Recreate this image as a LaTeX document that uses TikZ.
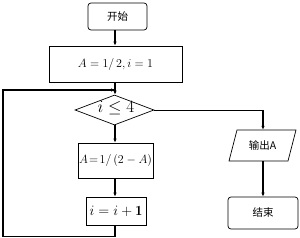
\documentclass[tikz,border=0pt]{standalone}
\usepackage{fontspec}
\newfontfamily\cjk{Noto Sans CJK SC}
\usetikzlibrary{shapes.geometric,arrows.meta}
\begin{document}
\begin{tikzpicture}[x=1pt,y=-1pt,
  box/.style={draw,line width=0.7pt,inner sep=0pt},
  rbox/.style={box,rounded corners=3pt},
  cjkt/.style={font=\cjk\fontsize{10.5}{12}\selectfont},
  arr/.style={line width=1.2pt,-{Latex[length=4pt,width=3.5pt]}},
  ln/.style={line width=1.2pt}]
\useasboundingbox (0,0) rectangle (300,238);
\node[rbox,cjkt,minimum width=59pt,minimum height=27pt] (start) at (117.5,16.5) {开始};
\node[box,minimum width=133pt,minimum height=36pt,font=\fontsize{13}{15}\selectfont] (init) at (115.5,64) {$A=1/\,2, i=1$};
\node[box,diamond,aspect=2.6,minimum width=79pt,minimum height=30pt] (cond) at (114.5,110) {};
\node[font=\fontsize{16}{18}\selectfont] (ct) at (116,108.5) {$i\le4$};
\node[box,minimum width=75pt,minimum height=35pt,font=\fontsize{12.5}{15}\selectfont] (upd) at (115.5,160.5) {$A\!=\!1/\,(2-A)$};
\node[box,minimum width=60pt,minimum height=28pt,font=\fontsize{14}{16}\selectfont] (inc) at (116,211) {$i=i+\mathbf{1}$};
\draw[line width=0.7pt] (237,130) -- (296,130) -- (288,161) -- (229,161) -- cycle;
\node[cjkt,minimum width=59pt,minimum height=31pt,inner sep=0pt] (out) at (262.5,145.5) {输出A};
\node[rbox,cjkt,minimum width=70pt,minimum height=32pt] (end) at (263,213) {结束};
\coordinate (j) at (115,90);
\coordinate (lb) at (115,236.5);
\coordinate (ll) at (3,236.5);
\coordinate (lt) at (3,90);
\coordinate (rc) at (263,110);
\draw[arr] (start.south -| 115,0) -- (init.north -| 115,0);
\draw[arr] (init.south -| 115,0) -- (cond.north -| 115,0);
\draw[arr] (cond.south -| 115,0) -- (upd.north -| 115,0);
\draw[arr] (upd.south -| 115,0) -- (inc.north -| 115,0);
\draw[ln] (inc.south -| 115,0) -- (lb) -- (ll) -- (lt) -- (j);
\draw[arr] (lt) -- (j);
\draw[line width=0.7pt] (cond.east) -- (rc);
\draw[arr] (rc) -- (out.north -| rc);
\draw[arr] (out.south -| rc) -- (end.north -| rc);
\end{tikzpicture}
\end{document}
